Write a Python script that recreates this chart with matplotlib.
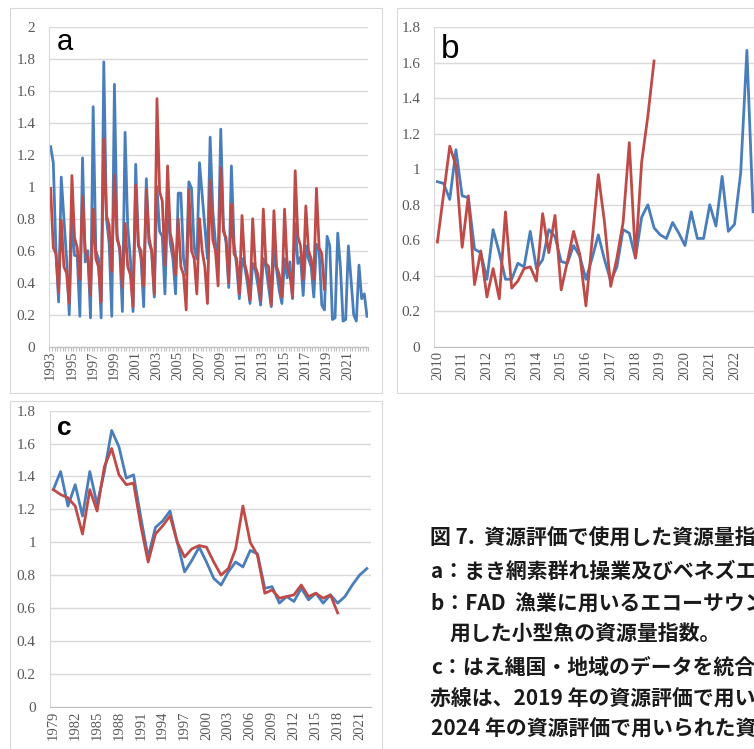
import matplotlib.pyplot as plt
from matplotlib.patches import Rectangle

# a: quarterly index 1993-2022 (blue) and 1993-2018 (red)
a_blue = [1.25, 1.15, 0.60, 0.28, 1.06, 0.80, 0.55, 0.20, 0.80, 0.57, 0.57, 0.19,
          1.18, 0.53, 0.60, 0.18, 1.50, 0.60, 0.55, 0.18, 1.78, 0.80, 0.65, 0.19,
          1.64, 0.70, 0.60, 0.22, 1.34, 0.75, 0.55, 0.22, 1.14, 0.65, 0.55, 0.25,
          1.05, 0.65, 0.60, 0.31, 1.00, 0.72, 0.69, 0.33, 0.90, 0.65, 0.55, 0.33,
          0.96, 0.96, 0.55, 0.45, 1.03, 0.99, 0.62, 0.55, 1.15, 0.95, 0.75, 0.55,
          1.31, 0.85, 0.65, 0.55, 1.36, 0.75, 0.65, 0.37, 1.13, 0.65, 0.50, 0.30,
          0.55, 0.50, 0.40, 0.27, 0.52, 0.48, 0.38, 0.26, 0.55, 0.50, 0.37, 0.25,
          0.60, 0.48, 0.35, 0.27, 0.55, 0.43, 0.53, 0.30, 0.77, 0.52, 0.56, 0.32,
          0.63, 0.55, 0.50, 0.31, 0.64, 0.60, 0.26, 0.23, 0.69, 0.63, 0.17, 0.18,
          0.71, 0.50, 0.16, 0.17, 0.63, 0.42, 0.20, 0.16, 0.51, 0.30, 0.33, 0.19]
a_red = [0.99, 0.62, 0.58, 0.34, 0.79, 0.50, 0.46, 0.27, 1.07, 0.68, 0.62, 0.42,
         0.94, 0.60, 0.55, 0.32, 0.86, 0.55, 0.50, 0.28, 1.30, 0.82, 0.76, 0.47,
         1.07, 0.67, 0.62, 0.37, 0.77, 0.50, 0.45, 0.25, 1.01, 0.63, 0.60, 0.38,
         0.98, 0.68, 0.60, 0.33, 1.55, 0.97, 0.91, 0.51, 1.13, 0.71, 0.63, 0.45,
         0.80, 0.50, 0.45, 0.23, 0.98, 0.60, 0.55, 0.33, 0.80, 0.60, 0.50, 0.27,
         1.04, 0.67, 0.60, 0.38, 1.12, 0.72, 0.68, 0.40, 0.89, 0.58, 0.55, 0.33,
         0.82, 0.52, 0.45, 0.29, 0.80, 0.50, 0.45, 0.29, 0.86, 0.52, 0.50, 0.26,
         0.85, 0.50, 0.45, 0.31, 0.86, 0.50, 0.45, 0.31, 1.10, 0.69, 0.63, 0.42,
         0.88, 0.60, 0.55, 0.42, 0.99, 0.62, 0.58, 0.36]
a_years = list(range(1993, 2022, 2))

# b: quarterly index 2010-2022 (blue) and 2010-2018 (red)
b_blue = [0.93, 0.92, 0.83, 1.11, 0.85, 0.84, 0.55, 0.53, 0.38, 0.66, 0.53, 0.38,
          0.38, 0.47, 0.45, 0.65, 0.44, 0.49, 0.66, 0.62, 0.48, 0.47, 0.57, 0.51,
          0.38, 0.50, 0.63, 0.49, 0.37, 0.45, 0.66, 0.64, 0.50, 0.73, 0.80, 0.67,
          0.63, 0.61, 0.70, 0.64, 0.57, 0.76, 0.61, 0.61, 0.80, 0.68, 0.96, 0.65,
          0.69, 0.98, 1.67, 0.76]
b_red = [0.59, 0.86, 1.13, 1.02, 0.56, 0.85, 0.35, 0.54, 0.28, 0.44, 0.27, 0.76,
         0.33, 0.37, 0.44, 0.45, 0.37, 0.75, 0.53, 0.74, 0.32, 0.48, 0.65, 0.52,
         0.23, 0.60, 0.97, 0.70, 0.34, 0.50, 0.70, 1.15, 0.50, 1.04, 1.30, 1.61]
b_years = list(range(2010, 2023))

# c: annual index 1979-2022 (blue) and 1979-2018 (red)
c_blue = [1.32, 1.43, 1.22, 1.35, 1.16, 1.43, 1.23, 1.43, 1.68, 1.58, 1.39, 1.41,
          1.15, 0.91, 1.09, 1.13, 1.19, 1.00, 0.82, 0.89, 0.97, 0.88, 0.78, 0.74,
          0.82, 0.88, 0.85, 0.95, 0.93, 0.72, 0.73, 0.63, 0.67, 0.64, 0.72, 0.65,
          0.69, 0.63, 0.68, 0.63, 0.67, 0.74, 0.80, 0.84]
c_red = [1.32, 1.29, 1.27, 1.22, 1.05, 1.32, 1.19, 1.46, 1.57, 1.41, 1.35, 1.36,
         1.10, 0.88, 1.05, 1.10, 1.16, 1.00, 0.91, 0.96, 0.98, 0.97, 0.88, 0.80,
         0.84, 0.96, 1.22, 1.00, 0.92, 0.69, 0.71, 0.66, 0.67, 0.68, 0.74, 0.67,
         0.69, 0.66, 0.68, 0.57]
c_years = list(range(1979, 2022, 3))

caption = [
    "図 7.  資源評価で使用した資源量指数",
    "a：まき網素群れ操業及びベネズエラ",
    "b：FAD  漁業に用いるエコーサウンダー",
    "用した小型魚の資源量指数。",
    "c：はえ縄国・地域のデータを統合し",
    "赤線は、2019 年の資源評価で用いた",
    "2024 年の資源評価で用いられた資源",
]

BLUE = '#4a7ebb'
RED = '#be4b48'
W, H = 754, 749


def rect(x0, y0, x1, y1):
    # pixel box (top-left origin) -> figure fraction [left, bottom, width, height]
    return [x0 / W, 1 - y1 / H, (x1 - x0) / W, (y1 - y0) / H]


def style(ax, n, ymax, xpos, xlab):
    yt = [round(0.2 * k, 1) for k in range(int(round(ymax / 0.2)) + 1)]
    ax.set_xlim(-0.5, n - 0.5)
    ax.set_ylim(0, ymax)
    ax.set_yticks(yt)
    ax.set_yticklabels([f'{v:g}' for v in yt])
    ax.set_xticks(xpos)
    ax.set_xticklabels([str(y) for y in xlab], rotation=90)
    ax.grid(axis='y', color='#d9d9d9', lw=1.0)
    ax.set_axisbelow(True)
    for s in ['top', 'right']:
        ax.spines[s].set_visible(False)
    ax.spines['left'].set_color('#d9d9d9')
    ax.spines['bottom'].set_color('#bfbfbf')
    ax.tick_params(axis='y', length=0, pad=10, labelsize=11, labelcolor='#595959')
    ax.tick_params(axis='x', which='major', length=0, pad=3, labelsize=10.5,
                   labelcolor='#595959')
    for lab in ax.get_xticklabels() + ax.get_yticklabels():
        lab.set_family('Liberation Serif')


fig = plt.figure(figsize=(W / 100, H / 100), dpi=100)

# chart area borders
for x0, y0, x1, y1 in [(10, 8, 382, 393), (397, 8, 820, 393), (10, 401, 382, 820)]:
    fig.patches.append(Rectangle((x0 / W, 1 - y1 / H), (x1 - x0) / W, (y1 - y0) / H,
                                 transform=fig.transFigure, fill=False,
                                 ec='#d9d9d9', lw=0.8))

ax_a = fig.add_axes(rect(49.3, 26.7, 368.3, 346.7))
ax_a.plot(range(len(a_blue)), a_blue, color=BLUE, lw=2)
ax_a.plot(range(len(a_red)), a_red, color=RED, lw=2)
style(ax_a, len(a_blue), 2.0, [(y - 1993) * 4 for y in a_years], a_years)
ax_a.set_xticks([i - 0.5 for i in range(len(a_blue) + 1)], minor=True)
ax_a.tick_params(axis='x', which='minor', length=3, color='#bfbfbf', width=0.8)

ax_b = fig.add_axes(rect(434.3, 27.3, 434.3 + 56 * 6.19, 346.7))
ax_b.plot(range(len(b_blue)), b_blue, color=BLUE, lw=2)
ax_b.plot(range(len(b_red)), b_red, color=RED, lw=2)
style(ax_b, 56, 1.8, [(y - 2010) * 4 for y in b_years], b_years)

ax_c = fig.add_axes(rect(49.7, 410.7, 370.5, 706.7))
ax_c.plot(range(len(c_blue)), c_blue, color=BLUE, lw=2)
ax_c.plot(range(len(c_red)), c_red, color=RED, lw=2)
style(ax_c, len(c_blue), 1.8, [y - 1979 for y in c_years], c_years)

# panel letters
fig.text(57 / W, 1 - 50 / H, 'a', fontsize=21, family='Liberation Sans', va='baseline')
fig.text(441 / W, 1 - 58 / H, 'b', fontsize=24, family='Liberation Sans', va='baseline')
fig.text(57 / W, 1 - 435 / H, 'c', fontsize=19, family='Liberation Sans',
         weight='bold', va='baseline')

# caption block
cap_y = [538, 571, 603, 634, 667, 698, 729]
cap_x = [430, 431, 431, 450, 431, 430, 431]
for txt, x, y in zip(caption, cap_x, cap_y):
    fig.text(x / W, 1 - y / H, txt, fontsize=15, va='center', ha='left',
             family=['Noto Sans CJK JP', 'DejaVu Sans'], weight='bold', color='#1a1a1a')

fig.savefig('out.png', dpi=100, facecolor='white')
